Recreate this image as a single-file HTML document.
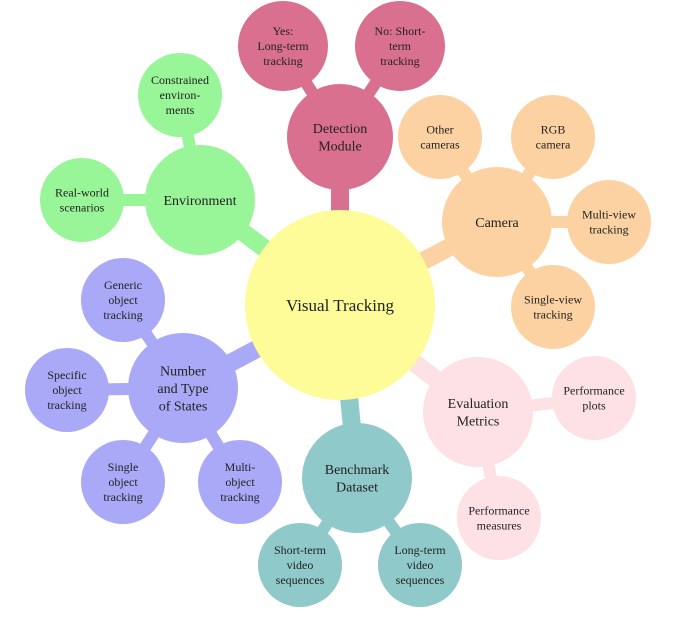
<!DOCTYPE html>
<html><head><meta charset="utf-8"><style>
html,body{margin:0;padding:0;background:#fff;width:680px;height:617px;overflow:hidden}
text{font-family:"Liberation Serif",serif;fill:#222;text-anchor:middle}
</style></head><body>
<svg width="680" height="617" viewBox="0 0 680 617">
<g id="links"></g>
<g id="nodes"></g>
</svg>
<script>
const nodes=[
 {n:"visual-tracking",x:340,y:305,r:95,c:"#fdfc98",t:["Visual Tracking"],fs:17},
 {n:"detection-module",x:340,y:137,r:53,c:"#d9708f",t:["Detection","Module"],p:0},
 {n:"yes-long-term",x:283,y:46,r:45,c:"#d9708f",t:["Yes:","Long-term","tracking"],p:1},
 {n:"no-short-term",x:400,y:46,r:45,c:"#d9708f",t:["No: Short-","term","tracking"],p:1},
 {n:"camera",x:497,y:222,r:55,c:"#fcd2a2",t:["Camera"],p:0},
 {n:"other-cameras",x:440,y:137,r:42,c:"#fcd2a2",t:["Other","cameras"],p:4},
 {n:"rgb-camera",x:553,y:137,r:42,c:"#fcd2a2",t:["RGB","camera"],p:4},
 {n:"multi-view",x:609,y:222,r:42,c:"#fcd2a2",t:["Multi-view","tracking"],p:4},
 {n:"single-view",x:553,y:307,r:42,c:"#fcd2a2",t:["Single-view","tracking"],p:4},
 {n:"evaluation-metrics",x:478,y:412,r:55,c:"#fde1e4",t:["Evaluation","Metrics"],p:0},
 {n:"performance-plots",x:594,y:398,r:42,c:"#fde1e4",t:["Performance","plots"],p:9},
 {n:"performance-measures",x:499,y:518,r:42,c:"#fde1e4",t:["Performance","measures"],p:9},
 {n:"benchmark-dataset",x:357,y:478,r:55,c:"#90c9c9",t:["Benchmark","Dataset"],p:0},
 {n:"short-term-video",x:300,y:565,r:42,c:"#90c9c9",t:["Short-term","video","sequences"],p:12},
 {n:"long-term-video",x:420,y:565,r:42,c:"#90c9c9",t:["Long-term","video","sequences"],p:12},
 {n:"number-type-states",x:183,y:388,r:55,c:"#a9a9f8",t:["Number","and Type","of States"],p:0},
 {n:"generic-object",x:123,y:300,r:42,c:"#a9a9f8",t:["Generic","object","tracking"],p:15},
 {n:"specific-object",x:67,y:390,r:42,c:"#a9a9f8",t:["Specific","object","tracking"],p:15},
 {n:"single-object",x:123,y:482,r:42,c:"#a9a9f8",t:["Single","object","tracking"],p:15},
 {n:"multi-object",x:240,y:482,r:42,c:"#a9a9f8",t:["Multi-","object","tracking"],p:15},
 {n:"environment",x:200,y:200,r:55,c:"#98f598",t:["Environment"],p:0},
 {n:"constrained-env",x:180,y:95,r:42,c:"#98f598",t:["Constrained","environ-","ments"],p:20},
 {n:"real-world",x:82,y:200,r:42,c:"#98f598",t:["Real-world","scenarios"],p:20}
];
const NS="http://www.w3.org/2000/svg";
const L=document.getElementById('links'),G=document.getElementById('nodes');
nodes.forEach(d=>{
 if(d.p===undefined)return;
 const p=nodes[d.p];
 const ln=document.createElementNS(NS,'line');
 
 
 ln.setAttribute('x1',p.x);ln.setAttribute('y1',p.y);ln.setAttribute('x2',d.x);ln.setAttribute('y2',d.y);
 ln.setAttribute('stroke',d.c);ln.setAttribute('stroke-width',d.p===0?18:12);
 L.appendChild(ln);
});
nodes.forEach(d=>{
 const g=document.createElementNS(NS,'g');
 
 
 const c=document.createElementNS(NS,'circle');
 c.setAttribute('cx',d.x);c.setAttribute('cy',d.y);c.setAttribute('r',d.r);c.setAttribute('fill',d.c);
 g.appendChild(c);
 const fs=d.fs||(d.r>50?14:12);const lh=fs*1.25;
 d.t.forEach((s,i)=>{
  const t=document.createElementNS(NS,'text');
  t.setAttribute('x',d.x);
  t.setAttribute('y',d.y+(i-(d.t.length-1)/2)*lh+fs*0.35);
  t.setAttribute('font-size',fs);
  t.textContent=s;g.appendChild(t);
 });
 G.appendChild(g);
});
</script>
</body></html>
